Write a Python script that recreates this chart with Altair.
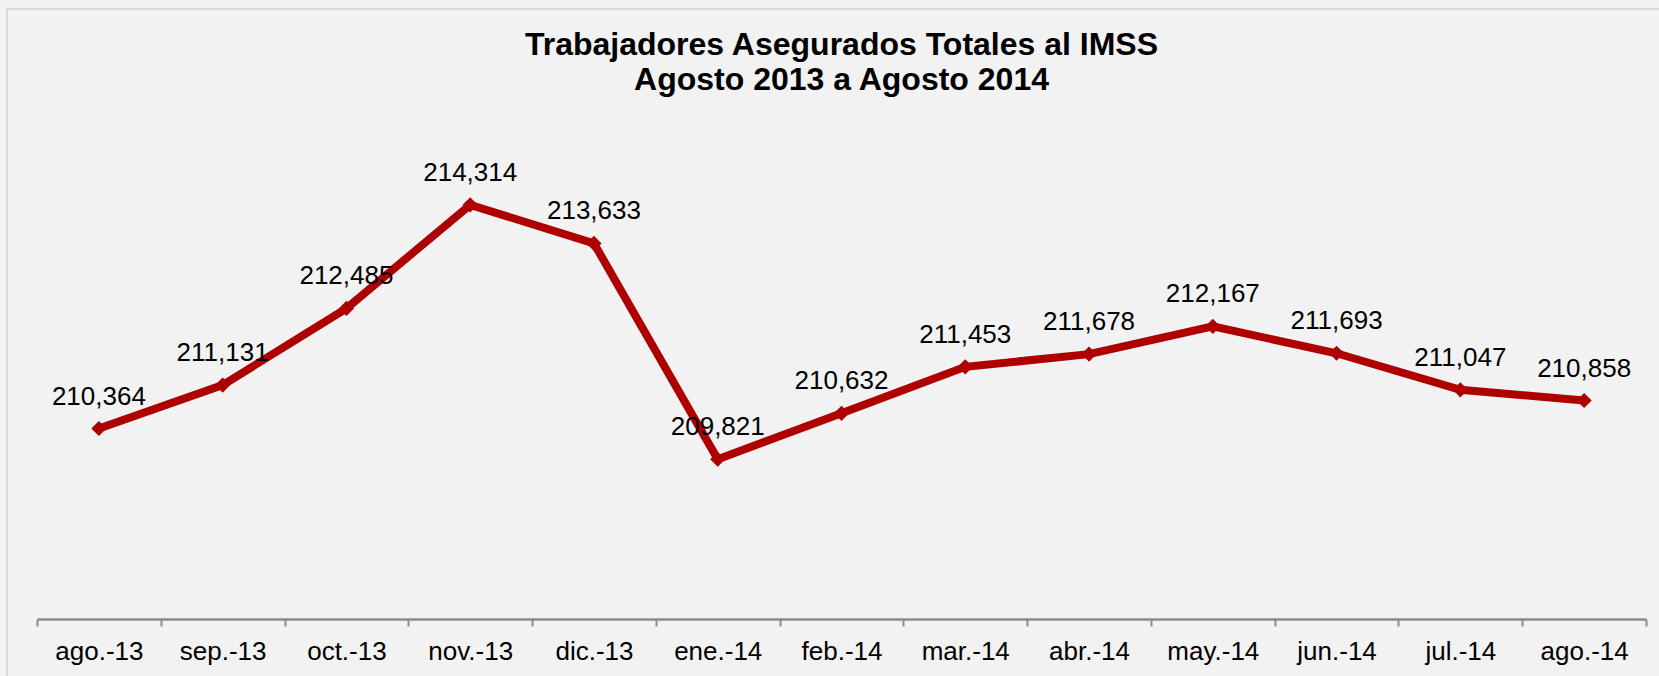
import altair as alt
import pandas as pd

months = ["ago.-13", "sep.-13", "oct.-13", "nov.-13", "dic.-13", "ene.-14", "feb.-14",
          "mar.-14", "abr.-14", "may.-14", "jun.-14", "jul.-14", "ago.-14"]
values = [210364, 211131, 212485, 214314, 213633, 209821, 210632,
          211453, 211678, 212167, 211693, 211047, 210858]
title_lines = ["Trabajadores Asegurados Totales al IMSS", "Agosto 2013 a Agosto 2014"]

df = pd.DataFrame({"mes": months, "valor": values})

RED = "#AE0000"
FONT = "Liberation Sans"

x = alt.X("mes:N", sort=months, title=None,
          scale=alt.Scale(paddingInner=0, paddingOuter=0),
          axis=alt.Axis(tickBand="extent", labelAngle=0, labelFontSize=26, labelFont=FONT,
                        labelColor="#000000", labelPadding=12, tickSize=7, tickWidth=2,
                        tickColor="#8c8c8c", domainColor="#8c8c8c", domainWidth=2.5,
                        grid=False))
y = alt.Y("valor:Q", title=None, axis=None,
          scale=alt.Scale(domain=[207000, 215000], zero=False, nice=False))

base = alt.Chart(df)

line = base.mark_line(color=RED, strokeWidth=8, point=alt.OverlayMarkDef(
    shape="diamond", size=230, color=RED, filled=True, opacity=1)).encode(x=x, y=y)

labels = base.mark_text(fontSize=26, font=FONT, color="#000000", dy=-24,
                        baseline="alphabetic", align="center").encode(
    x=alt.X("mes:N", sort=months), y="valor:Q", text=alt.Text("valor:Q", format=","))

border_left = base.mark_rule(color="#d9d9d9", strokeWidth=2).encode(
    x=alt.value(-30), y=alt.value(-157), y2=alt.value(520))
border_top = base.mark_rule(color="#d9d9d9", strokeWidth=2).encode(
    x=alt.value(-30), x2=alt.value(1640), y=alt.value(-157))

chart = alt.layer(border_left, border_top, line, labels).properties(
    width=1609, height=453,
    autosize=alt.AutoSizeParams(type="none"),
    padding={"left": 37, "top": 166, "right": 13, "bottom": 57},
    background="#f2f2f2",
    title=alt.TitleParams(text=title_lines, fontSize=32, font=FONT, fontWeight="bold",
                          color="#000000", lineHeight=35, anchor="middle", frame="group",
                          baseline="bottom", offset=-121),
).configure_view(stroke=None)

chart.save("out.html", embed_options={"renderer": "svg", "actions": False})
